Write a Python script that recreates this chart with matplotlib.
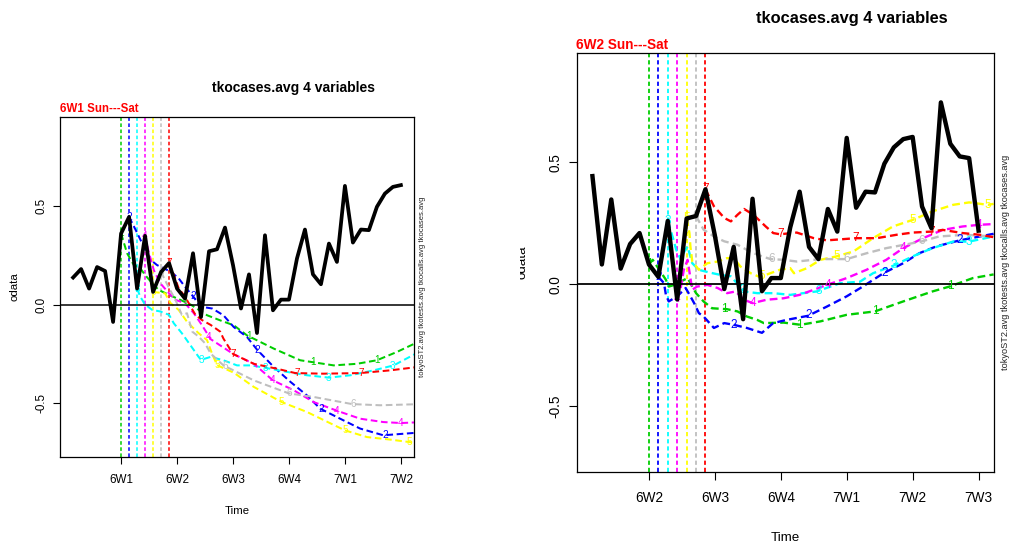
import numpy as np
import matplotlib
matplotlib.use("Agg")
import matplotlib.pyplot as plt
from matplotlib.transforms import Bbox, TransformedBbox

plt.rcParams['font.family'] = ['Liberation Sans', 'DejaVu Sans']
plt.rcParams['lines.scale_dashes'] = False

W, H = 1011, 546

# day 0 = Sunday of 6W1, observed tkocases.avg (one value per day)
obs_days = list(range(-6, 43))
obs = [0.137, 0.18, 0.081, 0.19, 0.17, -0.088,
       0.36, 0.444, 0.081, 0.348, 0.064, 0.165, 0.21,
       0.081, 0.03, 0.26, -0.063, 0.27, 0.28, 0.39,
       0.2, -0.02, 0.153, -0.144, 0.351, -0.029, 0.025,
       0.025, 0.233, 0.38, 0.153, 0.103, 0.309, 0.216,
       0.601, 0.314, 0.38, 0.377, 0.495, 0.562, 0.596,
       0.605, 0.319, 0.23, 0.747, 0.577, 0.525, 0.518, 0.22]

week_pos = [0, 7, 14, 21, 28, 35]
weeks_left = ['6W1', '6W2', '6W3', '6W4', '7W1', '7W2']
weeks_right = ['6W2', '6W3', '6W4', '7W1', '7W2', '7W3']
cols = ['#00CD00', '#0000FF', '#00FFFF', '#FF00FF', '#FFFF00', '#BEBEBE', '#FF0000']

# forecasts, left panel (start 6W1)
L1_t = [0, 0.75, 1.6, 2.4, 3.0, 3.9, 4.7, 6.0, 7.4, 8.7, 10.75, 12.4, 14.1, 15.75, 19.1, 22.4, 26.6, 29.5, 32.0, 34.5, 36.7]
L1_v = [0.36, 0.26, 0.2, 0.184, 0.15, 0.108, 0.074, 0.049, 0.024, 0.0, -0.054, -0.08, -0.105, -0.156, -0.223, -0.282, -0.308, -0.3, -0.282, -0.24, -0.198]
L2_t = [1, 1.8, 2.4, 3.0, 3.7, 4.5, 5.3, 6.2, 7.2, 8.0, 9.1, 9.9, 11.4, 12.8, 14.1, 15.75, 17, 19.1, 21.2, 23.25, 24.9, 27.4, 29.9, 32.8, 36.7]
L2_v = [0.444, 0.38, 0.33, 0.28, 0.226, 0.2, 0.184, 0.167, 0.133, 0.09, 0.037, -0.01, -0.02, -0.054, -0.114, -0.164, -0.228, -0.316, -0.392, -0.46, -0.527, -0.578, -0.628, -0.662, -0.65]
L3_t = [2, 2.4, 3.0, 3.9, 4.9, 6.0, 6.6, 7.6, 8.5, 9.7, 10, 11.2, 12.8, 14.5, 16.2, 18, 20.75, 23.25, 26, 28.7, 31.6, 34.1, 36.7]
L3_v = [0.081, 0.04, 0.0, -0.027, -0.035, -0.052, -0.095, -0.145, -0.196, -0.265, -0.28, -0.265, -0.282, -0.308, -0.308, -0.32, -0.341, -0.358, -0.37, -0.358, -0.333, -0.308, -0.252]
L4_t = [3, 3.45, 4.1, 4.9, 6.0, 6.8, 8.0, 9.1, 10.1, 11.2, 14.1, 16.6, 19, 21.6, 24.1, 27.1, 29.9, 32.8, 35, 36.7]
L4_v = [0.348, 0.267, 0.174, 0.108, 0.057, 0.024, 0.007, -0.044, -0.103, -0.175, -0.252, -0.3, -0.384, -0.434, -0.494, -0.539, -0.578, -0.595, -0.6, -0.597]
L5_t = [4, 5.5, 6.2, 7.2, 8.3, 9.7, 10.75, 11.3, 12, 14.1, 16.6, 20.1, 23.25, 28, 30.75, 33.7, 36, 36.7]
L5_v = [0.064, 0.057, 0.007, -0.027, -0.09, -0.145, -0.18, -0.24, -0.307, -0.345, -0.417, -0.494, -0.544, -0.637, -0.671, -0.684, -0.696, -0.7]
L6_t = [5, 6.0, 6.8, 7.6, 8.25, 8.9, 9.7, 10.5, 11.2, 12.8, 16.6, 21, 24.1, 28.9, 32.4, 36.7]
L6_v = [0.165, 0.083, 0.024, -0.052, -0.044, -0.137, -0.162, -0.196, -0.248, -0.308, -0.384, -0.45, -0.468, -0.504, -0.51, -0.505]
L7_t = [6, 6.6, 7.2, 8.0, 8.7, 9.3, 10.1, 11.2, 12.4, 12.8, 14.0, 16.6, 19.5, 21.8, 25.3, 29.9, 33.7, 36.7]
L7_v = [0.21, 0.15, 0.083, 0.04, -0.01, -0.052, -0.078, -0.103, -0.137, -0.172, -0.25, -0.3, -0.325, -0.347, -0.35, -0.347, -0.333, -0.318]

# forecasts, right panel (start 6W2)
R1_t = [0, 0.4, 1.1, 1.8, 2.1, 2.7, 3.4, 4.1, 5.0, 5.8, 6.7, 8.3, 9.4, 10.4, 11.5, 12.2, 14.3, 16.1, 18.2, 21, 24, 27, 30.1, 31.9, 34.4, 36.6]
R1_v = [0.081, 0.1, 0.059, 0.018, -0.01, -0.003, 0.011, 0.025, -0.037, -0.071, -0.099, -0.103, -0.112, -0.133, -0.147, -0.16, -0.158, -0.167, -0.153, -0.126, -0.112, -0.071, -0.03, -0.01, 0.025, 0.04]
R2_t = [1, 1.6, 1.8, 2.1, 3.0, 3.9, 4.4, 4.8, 5.3, 5.8, 6.9, 8.0, 9.0, 10.4, 12.0, 13.2, 14.6, 16.9, 18.9, 21, 22.7, 24.9, 27, 28.7, 30.5, 33, 36.6]
R2_v = [0.03, 0.004, -0.044, -0.071, -0.05, -0.016, -0.05, -0.078, -0.119, -0.133, -0.18, -0.16, -0.167, -0.18, -0.2, -0.16, -0.147, -0.13, -0.092, -0.05, -0.01, 0.045, 0.086, 0.127, 0.155, 0.18, 0.207]
R3_t = [2, 2.5, 2.9, 3.4, 3.7, 4.1, 4.6, 5.3, 6.4, 7.6, 8.7, 10.1, 11.5, 13.2, 15, 17.8, 20.3, 22.4, 23.8, 25.9, 28, 30.1, 32.3, 34, 36.6]
R3_v = [0.26, 0.196, 0.141, 0.1, 0.13, 0.155, 0.086, 0.059, 0.048, 0.038, 0.032, -0.03, -0.037, -0.037, -0.044, -0.03, 0.004, 0.01, 0.045, 0.075, 0.114, 0.148, 0.175, 0.175, 0.196]
R4_t = [3, 3.4, 3.7, 4.1, 4.6, 5.1, 6.2, 7.3, 8.3, 9.2, 10.1, 11, 12.5, 14.3, 16, 17.5, 18.9, 21, 23.1, 25.2, 27, 29.1, 31.2, 33.3, 35.1, 36.6]
R4_v = [-0.063, -0.01, 0.059, 0.1, -0.023, -0.01, -0.003, -0.016, -0.037, -0.03, -0.064, -0.078, -0.064, -0.058, -0.044, -0.023, -0.003, 0.025, 0.059, 0.1, 0.148, 0.189, 0.223, 0.237, 0.244, 0.247]
R5_t = [4, 4.3, 4.4, 4.6, 5.3, 6.2, 7.3, 8.3, 9.0, 9.7, 10.8, 11.8, 12.9, 13.9, 15.0, 15.4, 16.8, 18.2, 19.9, 21.7, 23.8, 25.9, 28, 30.1, 32.3, 34, 36, 36.6]
R5_v = [0.27, 0.21, 0.155, 0.093, 0.059, 0.086, 0.093, 0.107, 0.107, 0.073, 0.045, 0.029, 0.045, 0.059, 0.066, 0.045, 0.066, 0.1, 0.114, 0.134, 0.189, 0.237, 0.264, 0.299, 0.326, 0.336, 0.326, 0.33]
R6_t = [5, 5.8, 6.9, 8.0, 9.4, 10.4, 11.5, 12.9, 14.3, 15.7, 18.2, 21, 23.1, 25.2, 28.9, 30.8, 33.6, 36.6]
R6_v = [0.28, 0.224, 0.196, 0.176, 0.162, 0.141, 0.121, 0.103, 0.1, 0.093, 0.103, 0.103, 0.127, 0.148, 0.175, 0.196, 0.203, 0.196]
R7_t = [6, 6.9, 8.0, 8.7, 9.4, 10.1, 11.1, 12.4, 13.2, 13.9, 15.7, 17.5, 18.9, 22, 24.2, 26.3, 28, 30, 31.2, 33.3, 35.1, 36.6]
R7_v = [0.39, 0.32, 0.272, 0.258, 0.285, 0.309, 0.285, 0.237, 0.21, 0.205, 0.212, 0.189, 0.18, 0.189, 0.189, 0.203, 0.212, 0.216, 0.223, 0.21, 0.203, 0.193]

left_curves = [(L1_t, L1_v), (L2_t, L2_v), (L3_t, L3_v), (L4_t, L4_v), (L5_t, L5_v), (L6_t, L6_v), (L7_t, L7_v)]
right_curves = [(R1_t, R1_v), (R2_t, R2_v), (R3_t, R3_v), (R4_t, R4_v), (R5_t, R5_v), (R6_t, R6_v), (R7_t, R7_v)]


def fx(x):
    return x / W


def fy(y):
    return 1 - y / H


fig = plt.figure(figsize=(W / 100, H / 100), dpi=100)


def panel(box, days, vals, curves, weeks, s):
    # s = scale of this panel (the right one was saved bigger)
    ax = fig.add_axes([fx(box[0]), fy(box[3]), fx(box[2] - box[0]), (box[3] - box[1]) / H])
    ax.set_xlim(-7.64, 36.64)
    ax.set_ylim(-0.772, 0.95)
    ax.axhline(0, color='black', lw=1.1 * s, zorder=3)
    for k, c in enumerate(cols):
        ax.axvline(k, color=c, lw=1.1 * s, dashes=(2.6 * s, 1.8 * s), zorder=1)
    for k, (t, v) in enumerate(curves):
        ax.plot(t, v, color=cols[k], lw=1.45 * s, dashes=(4.8 * s, 2.6 * s), zorder=2)
        for d in np.arange(k, 36.7, 8):
            ax.text(d, np.interp(d, t, v), str(k + 1), color=cols[k], fontsize=7.2 * s,
                    ha='center', va='center', zorder=4)
    ax.plot(days, vals, color='black', lw=2.7 * s, zorder=5, solid_joinstyle='round')
    ax.set_xticks(week_pos)
    ax.set_xticklabels(weeks)
    ax.set_yticks([-0.5, 0.0, 0.5])
    ax.set_yticklabels(['-0.5', '0.0', '0.5'], rotation=90, va='center')
    ax.tick_params(axis='x', length=5 * s, width=0.8, pad=7 * s, labelsize=8.4 * s, colors='black')
    ax.tick_params(axis='y', length=5 * s, width=0.8, pad=4 * s, labelsize=8.4 * s)
    for sp in ax.spines.values():
        sp.set_linewidth(0.9)
    return ax


left_days = obs_days[:42]
left_vals = obs[:42]
right_days = [d - 7 for d in obs_days[7:]]
right_vals = obs[7:]

panel((60, 117, 414, 457), left_days, left_vals, left_curves, weeks_left, 1.0)
panel((577, 53, 994, 472), right_days, right_vals, right_curves, weeks_right, 1.17)

side = 'tokyoST2.avg tkotests.avg tkocalls.avg tkocases.avg'

# left panel texts
fig.text(fx(294), fy(88), 'tkocases.avg 4 variables', fontsize=10, fontweight='bold', ha='center', va='center')
fig.text(fx(60), fy(109), '6W1 Sun---Sat', fontsize=8.3, fontweight='bold', color='red', ha='left', va='center')
fig.text(fx(237), fy(511), 'Time', fontsize=8.2, ha='center', va='center')
fig.text(fx(14), fy(287), 'odata', fontsize=8.2, rotation=90, ha='center', va='center')
fig.text(fx(423), fy(287), side, fontsize=5.5, rotation=90, ha='center', va='center', color='#222222')

# right panel texts
fig.text(fx(852), fy(18), 'tkocases.avg 4 variables', fontsize=11.8, fontweight='bold', ha='center', va='center')
fig.text(fx(576), fy(45), '6W2 Sun---Sat', fontsize=9.8, fontweight='bold', color='red', ha='left', va='center')
fig.text(fx(785), fy(538), 'Time', fontsize=9.6, ha='center', va='center')
od = fig.text(fx(522), fy(262), 'odata', fontsize=9.6, rotation=90, ha='center', va='center')
od.set_clip_box(TransformedBbox(Bbox([[fx(520), 0], [1, 1]]), fig.transFigure))
od.set_clip_on(True)
fig.text(fx(1006), fy(262), side, fontsize=6.6, rotation=90, ha='center', va='center', color='#222222')

fig.savefig('out.png', dpi=100)
